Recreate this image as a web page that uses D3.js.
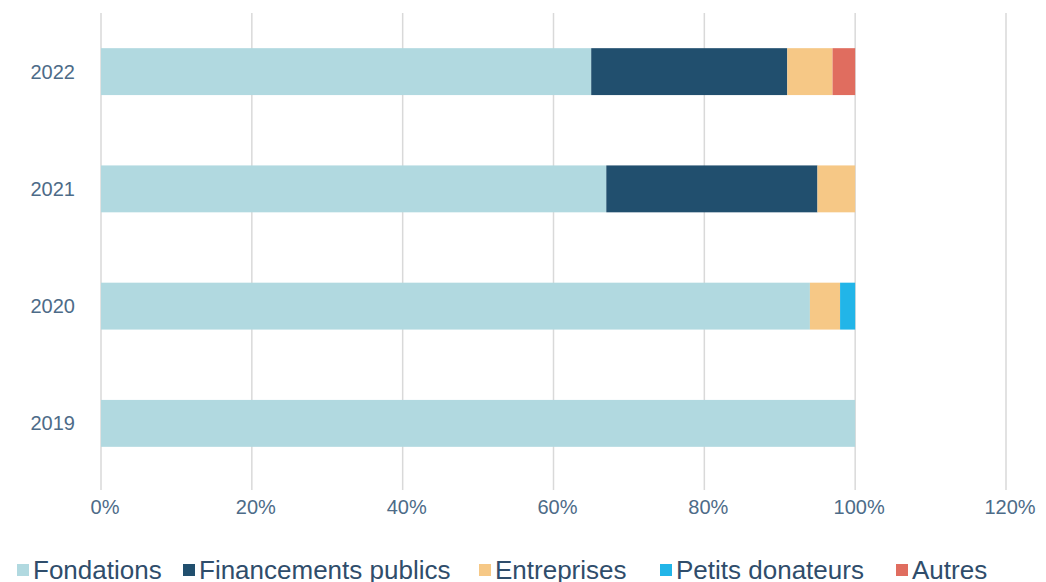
<!DOCTYPE html>
<html>
<head>
<meta charset="utf-8">
<script src="https://cdn.jsdelivr.net/npm/d3@7"></script>
<style>
  body{margin:0;background:#fff;}
  svg{display:block;}
</style>
</head>
<body>
<svg id="chart" width="1046" height="582"></svg>
<script>
// data
var years = ["2022","2021","2020","2019"]
var series = ["Fondations","Financements publics","Entreprises","Petits donateurs","Autres"]
var colors = ["#b1d9e0","#214f6e","#f6c886","#22b5e8","#e06d5f"]
var fondations = [65,67,94,100]
var publics = [26,28,0,0]
var entreprises = [6,5,4,0]
var donateurs = [0,0,2,0]
var autres = [3,0,0,0]
var ticks = [0,20,40,60,80,100,120]

var svg = d3.select("#chart")
var textcol = "#4d6b88"

var x = d3.scaleLinear().domain([0,120]).range([101,1006])
var y = d3.scaleBand().domain(years).range([13,482]).paddingInner(0.6).paddingOuter(0.3)

// grid
svg.append("g").selectAll("line").data(ticks).enter().append("line")
   .attr("x1",d=>x(d)).attr("x2",d=>x(d))
   .attr("y1",13).attr("y2",490)
   .attr("stroke","#d9d9d9").attr("stroke-width",1.5)

// stacked bars
var rows = years.map((yr,i)=>({year:yr,
  Fondations:fondations[i],"Financements publics":publics[i],Entreprises:entreprises[i],
  "Petits donateurs":donateurs[i],Autres:autres[i]}))
var stack = d3.stack().keys(series)(rows)

var layers = svg.append("g").selectAll("g").data(stack).enter().append("g")
   .attr("fill",(d,i)=>colors[i])
layers.selectAll("rect").data(d=>d).enter().append("rect")
   .attr("x",d=>x(d[0]))
   .attr("y",d=>y(d.data.year))
   .attr("width",d=>x(d[1])-x(d[0]))
   .attr("height",y.bandwidth())

// y labels
svg.append("g").selectAll("text").data(years).enter().append("text")
   .attr("x",75).attr("y",d=>y(d)+y.bandwidth()/2)
   .attr("text-anchor","end").attr("dominant-baseline","central")
   .attr("font-family","Liberation Sans, Arial, sans-serif").attr("font-size",20)
   .attr("fill",textcol).text(d=>d)

// x labels
svg.append("g").selectAll("text").data(ticks).enter().append("text")
   .attr("x",d=>x(d)+4).attr("y",507)
   .attr("text-anchor","middle").attr("dominant-baseline","central")
   .attr("font-family","Liberation Sans Narrow, Liberation Sans, sans-serif").attr("font-size",20)
   .attr("fill",textcol).text(d=>d+"%")

// legend
var legX = [17,183,479,660,896]
var leg = svg.append("g").selectAll("g").data(series).enter().append("g")
   .attr("transform",(d,i)=>`translate(${legX[i]},570)`)
leg.append("rect").attr("x",0).attr("y",-6).attr("width",12).attr("height",12)
   .attr("fill",(d,i)=>colors[i])
leg.append("text").attr("x",16).attr("y",0).attr("dominant-baseline","central")
   .attr("font-family","Liberation Sans Narrow, Liberation Sans, sans-serif").attr("font-size",26)
   .attr("fill","#2f4d6b").text(d=>d)
</script>
</body>
</html>
